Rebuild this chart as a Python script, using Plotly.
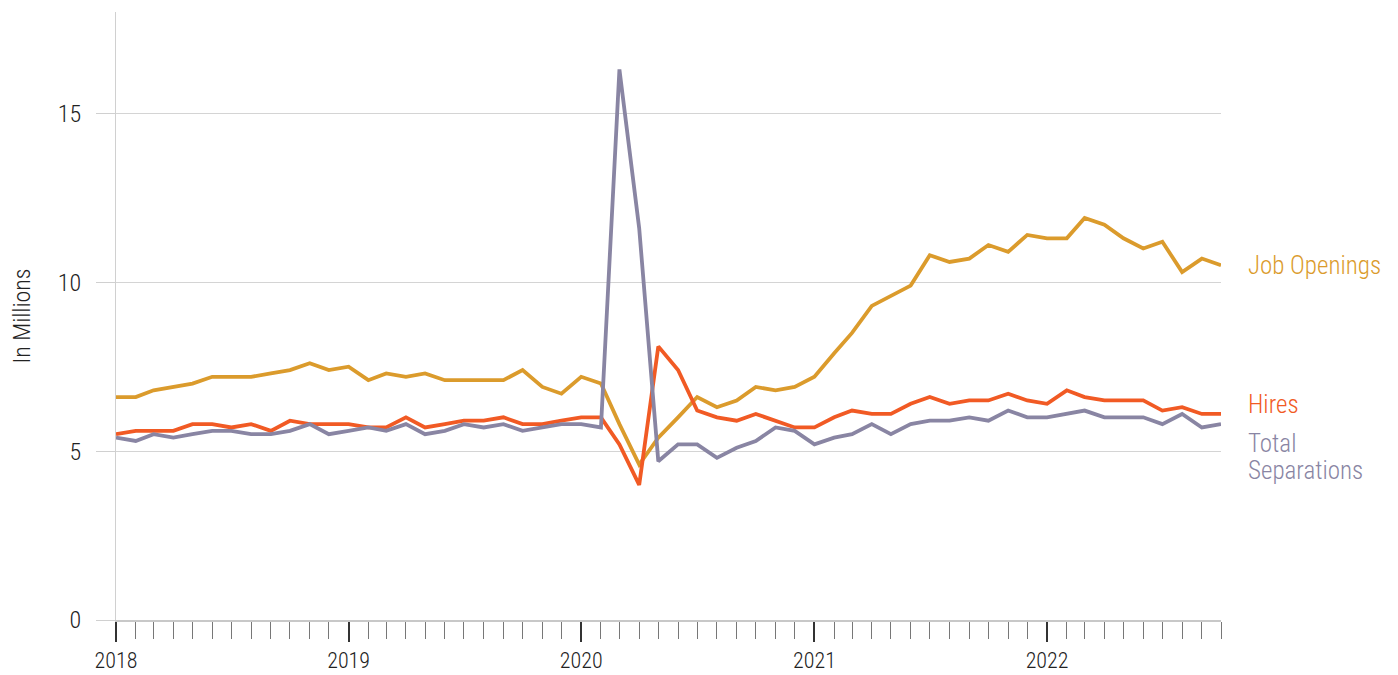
import pandas as pd
import plotly.graph_objects as go

months = pd.date_range("2018-01-01", "2022-10-01", freq="MS")

job_openings = [
    6.6, 6.6, 6.8, 6.9, 7.0, 7.2, 7.2, 7.2, 7.3, 7.4, 7.6, 7.4,
    7.5, 7.1, 7.3, 7.2, 7.3, 7.1, 7.1, 7.1, 7.1, 7.4, 6.9, 6.7,
    7.2, 7.0, 5.8, 4.6, 5.4, 6.0, 6.6, 6.3, 6.5, 6.9, 6.8, 6.9,
    7.2, 7.9, 8.5, 9.3, 9.6, 9.9, 10.8, 10.6, 10.7, 11.1, 10.9, 11.4,
    11.3, 11.3, 11.9, 11.7, 11.3, 11.0, 11.2, 10.3, 10.7, 10.5,
]
hires = [
    5.5, 5.6, 5.6, 5.6, 5.8, 5.8, 5.7, 5.8, 5.6, 5.9, 5.8, 5.8,
    5.8, 5.7, 5.7, 6.0, 5.7, 5.8, 5.9, 5.9, 6.0, 5.8, 5.8, 5.9,
    6.0, 6.0, 5.2, 4.0, 8.1, 7.4, 6.2, 6.0, 5.9, 6.1, 5.9, 5.7,
    5.7, 6.0, 6.2, 6.1, 6.1, 6.4, 6.6, 6.4, 6.5, 6.5, 6.7, 6.5,
    6.4, 6.8, 6.6, 6.5, 6.5, 6.5, 6.2, 6.3, 6.1, 6.1,
]
separations = [
    5.4, 5.3, 5.5, 5.4, 5.5, 5.6, 5.6, 5.5, 5.5, 5.6, 5.8, 5.5,
    5.6, 5.7, 5.6, 5.8, 5.5, 5.6, 5.8, 5.7, 5.8, 5.6, 5.7, 5.8,
    5.8, 5.7, 16.3, 11.6, 4.7, 5.2, 5.2, 4.8, 5.1, 5.3, 5.7, 5.6,
    5.2, 5.4, 5.5, 5.8, 5.5, 5.8, 5.9, 5.9, 6.0, 5.9, 6.2, 6.0,
    6.0, 6.1, 6.2, 6.0, 6.0, 6.0, 5.8, 6.1, 5.7, 5.8,
]

series_names = ["Job Openings", "Hires", "Total Separations"]
colors = ["#DB9B2C", "#F15A24", "#8985A3"]
# end labels: (text, colour index, y value)
end_labels = [("Job Openings", 0, 10.5), ("Hires", 1, 6.39),
              ("Total", 2, 5.24), ("Separations", 2, 4.44)]

FONT = "Roboto Condensed, Liberation Sans Narrow, DejaVu Sans Condensed, sans-serif"

fig = go.Figure()
for name, vals, c in zip(series_names, [job_openings, hires, separations], colors):
    fig.add_trace(go.Scatter(x=months, y=vals, mode="lines", name=name,
                             line=dict(color=c, width=3.8)))

for txt, ci, yv in end_labels:
    fig.add_annotation(x=1.0, xref="paper", xshift=25, y=yv, yref="y", text=txt,
                       showarrow=False, xanchor="left", yanchor="middle", align="left",
                       font=dict(family=FONT, size=25, color=colors[ci], weight=300))

# page body has an 8px margin, so the figure is sized/offset to compensate
fig.update_layout(
    width=1390, height=667,
    margin=dict(l=108, r=177, t=4, b=55),
    paper_bgcolor="white", plot_bgcolor="white",
    showlegend=False,
    font=dict(family=FONT, size=22, color="#222", weight=300),
    xaxis=dict(
        type="date", automargin=False,
        range=[months[0], months[-1]],
        dtick="M12", tick0="2018-01-01", tickformat="%Y",
        ticks="outside", ticklen=20, tickwidth=2, tickcolor="#333",
        showgrid=False, zeroline=False,
        showline=True, linecolor="#c8c8c8", linewidth=2,
        tickfont=dict(family=FONT, size=22, color="#222", weight=300),
        minor=dict(dtick="M1", tick0="2018-01-01", ticks="outside", ticklen=17,
                   tickwidth=1, tickcolor="#777", showgrid=False),
    ),
    yaxis=dict(
        automargin=False,
        range=[0, 18], tickvals=[0, 5, 10, 15],
        showgrid=True, gridcolor="#d4d4d4", gridwidth=1,
        zeroline=False, showline=True, linecolor="#d0d0d0", linewidth=1,
        ticks="outside", ticklen=19, tickwidth=1, tickcolor="#d0d0d0",
        ticklabelstandoff=10,
        tickfont=dict(family=FONT, size=24, color="#222", weight=300),
        title=dict(text="In Millions",
                   font=dict(family=FONT, size=24, color="#222", weight=300),
                   standoff=20),
    ),
)

fig.write_html("out.html")
